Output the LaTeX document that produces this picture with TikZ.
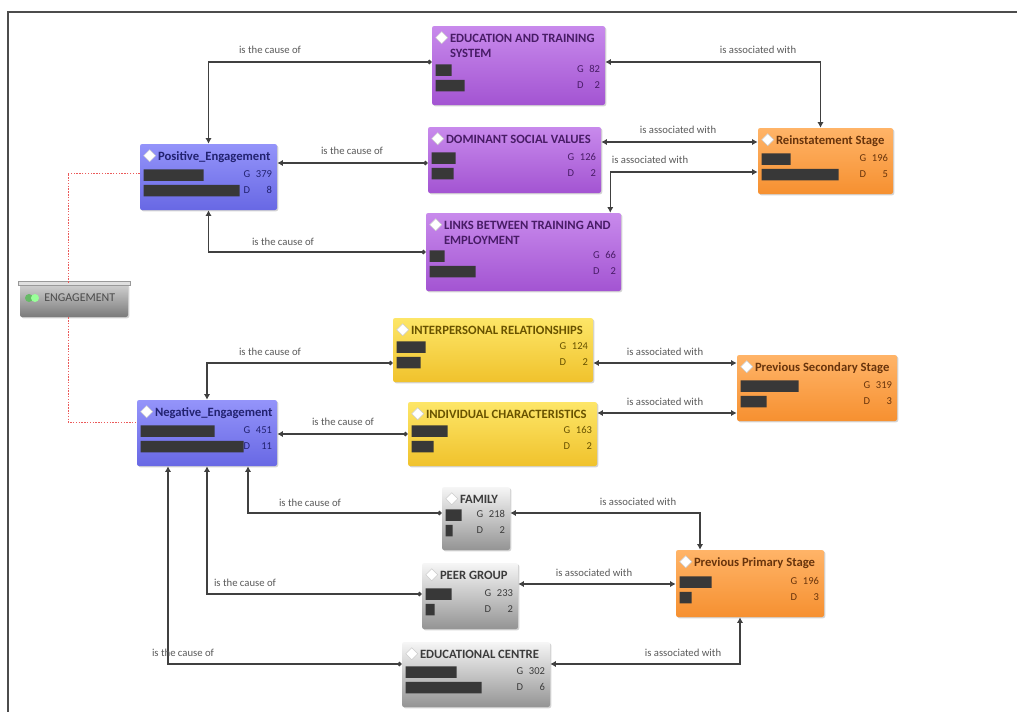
\documentclass[tikz,border=0pt]{standalone}
\usepackage{fontspec}
\setmainfont{Carlito}
\usetikzlibrary{arrows.meta,calc,fit,shadows}

\definecolor{purpT}{RGB}{200,138,236}
\definecolor{purpB}{RGB}{163,84,210}
\definecolor{purpX}{RGB}{72,28,102}
\definecolor{bluT}{RGB}{148,148,250}
\definecolor{bluB}{RGB}{104,104,228}
\definecolor{bluX}{RGB}{34,34,112}
\definecolor{orngT}{RGB}{255,180,104}
\definecolor{orngB}{RGB}{246,144,48}
\definecolor{orngX}{RGB}{104,52,12}
\definecolor{yellT}{RGB}{253,230,104}
\definecolor{yellB}{RGB}{240,194,44}
\definecolor{yellX}{RGB}{104,82,0}
\definecolor{gryT}{RGB}{246,246,246}
\definecolor{gryB}{RGB}{148,148,148}
\definecolor{gryX}{RGB}{60,60,60}
\definecolor{lineC}{RGB}{64,64,64}
\definecolor{linkR}{RGB}{235,90,90}

\tikzset{
	box/.style={rounded corners=1.5pt, inner sep=0pt, drop shadow={shadow xshift=.9pt, shadow yshift=-.9pt, opacity=.35}},
	purp/.style={top color=purpT, bottom color=purpB},
	blu/.style={top color=bluT, bottom color=bluB},
	orng/.style={top color=orngT, bottom color=orngB},
	yell/.style={top color=yellT, bottom color=yellB},
	gry/.style={top color=gryT, bottom color=gryB},
	purp txt/.style={text=purpX},
	blu txt/.style={text=bluX},
	orng txt/.style={text=orngX},
	yell txt/.style={text=yellX},
	gry txt/.style={text=gryX},
	ttl/.style={inner sep=0pt, align=left, font=\bfseries\fontsize{9}{10.7}\selectfont},
	num/.style={inner sep=0pt, font=\fontsize{7.5}{11}\selectfont},
	bar/.style={fill=black!78},
	lbl/.style={inner sep=0pt, text=black!65, font=\fontsize{7.6}{9}\selectfont},
	cause/.style={draw=lineC, line width=.8pt, {Circle[length=3.2pt]}-{Latex[length=4pt,width=4.5pt]}},
	assoc/.style={draw=lineC, line width=.8pt, {Latex[length=4pt,width=4.5pt]}-{Latex[length=4pt,width=4.5pt]}},
	member/.style={draw=linkR, line width=.7pt, dash pattern=on 1pt off 1pt},
}

% box, diamond, title, two bars and the G/D counts
\newcommand\concept[9][gry]{%
	\node[box,#1,fit={#3 #4}] (#2) {};
	\filldraw[fill=white, draw=black!20, line width=.3pt] ($(#2.north west)+(10,6)$) -- ++(6,6) -- ++(-6,6) -- ++(-6,-6) -- cycle;
	\node[ttl,#1 txt,anchor=north west] (#2-t) at ($(#2.north west)+(18,8)$) {#5};
	\fill[bar] ($(#2.south west)+(4,-41)$) rectangle ++(#6,11.5) ++(-#6,4) rectangle ++(#7,11.5);
	\node[num,#1 txt,anchor=east] (#2-n) at ($(#2.south east)+(-5,-28)$)
		{\begin{tabular}{@{}l@{\hspace{4pt}}r@{}}G&#8\\D&#9\end{tabular}};
}

\begin{document}
\begin{tikzpicture}[x=0.025cm, y=-0.025cm]
	\useasboundingbox (0,0) rectangle (1017,712);
	\draw[black!70, line width=1pt] (1017,12) -- (8,12) -- (8,712);

	\concept[purp]{edu}{(432,26)}{(605,105)}{EDUCATION AND TRAINING\\SYSTEM}{16}{29}{82}{2}
	\concept[purp]{dom}{(428,127)}{(601,193)}{DOMINANT SOCIAL VALUES}{24}{22}{126}{2}
	\concept[purp]{links}{(426,213)}{(621,291)}{LINKS BETWEEN TRAINING AND\\EMPLOYMENT}{15}{46}{66}{2}
	\concept[blu]{pos}{(140,144)}{(277,210)}{Positive\_Engagement}{60}{96}{379}{8}
	\concept[blu]{neg}{(137,400)}{(277,466)}{Negative\_Engagement}{74}{103}{451}{11}
	\concept[orng]{reinst}{(758,128)}{(893,194)}{Reinstatement Stage}{29}{77}{196}{5}
	\concept[orng]{prevsec}{(737,355)}{(897,421)}{Previous Secondary Stage}{58}{26}{319}{3}
	\concept[orng]{prevprim}{(676,550)}{(824,617)}{Previous Primary Stage}{32}{12}{196}{3}
	\concept[yell]{inter}{(393,318)}{(593,382)}{INTERPERSONAL RELATIONSHIPS}{29}{24}{124}{2}
	\concept[yell]{indiv}{(408,402)}{(597,466)}{INDIVIDUAL CHARACTERISTICS}{36}{22}{163}{2}
	\concept[gry]{family}{(442,487)}{(510,550)}{FAMILY}{16}{7}{218}{2}
	\concept[gry]{peer}{(422,563)}{(518,629)}{PEER GROUP}{26}{9}{233}{2}
	\concept[gry]{educ}{(402,642)}{(550,707)}{EDUCATIONAL CENTRE}{51}{76}{302}{6}

	% the family node on the left
	\node[box, top color=black!18, bottom color=black!52, fit={(20,284) (128,317)}] (eng) {};
	\fill[black!12, draw=black!40, line width=.3pt] (18,281) rectangle (130,285);
	\fill[green!55!black!60] (29,298) circle (4);
	\fill[green!40!white] (35,298) circle (4);
	\node[anchor=west, inner sep=0pt, text=black!70, font=\fontsize{8.5}{10}\selectfont] (eng-t) at (44,298) {ENGAGEMENT};

	\draw[member] ($(pos.west)+(0,-4)$) -| ($(eng.north)+(-6,0)$);
	\draw[member] ($(eng.south)+(-6,0)$) |- ($(neg.west)+(0,-11)$);

	% upper half
	\draw[cause] ($(edu.west)+(0,-3.5)$) -| (pos.north);
	\draw[assoc] ($(edu.east)+(0,-3.5)$) -| ($(reinst.north)+(-5,0)$);
	\draw[cause] ($(dom.west)+(0,3)$) coordinate (c3) -- (c3 -| pos.east);
	\draw[assoc] ($(dom.east)+(0,-18)$) coordinate (c4) -- (c4 -| reinst.west);
	\draw[assoc] ($(reinst.west)+(0,11)$) -| ($(links.north east)+(-11,0)$);
	\draw[cause] (links.west) -| (pos.south);

	% lower half
	\draw[cause] ($(inter.west)+(0,13)$) -| (neg.north);
	\draw[assoc] ($(inter.east)+(0,13)$) coordinate (c9) -- (c9 -| prevsec.west);
	\draw[assoc] ($(indiv.east)+(0,-21)$) coordinate (c10) -- (c10 -| prevsec.west);
	\draw[cause] (indiv.west) -- (indiv.west -| neg.east);
	\draw[cause] ($(family.west)+(0,-5.5)$) -| ($(neg.south)+(41,0)$);
	\draw[cause] ($(peer.west)+(0,-2)$) -| (neg.south);
	\draw[cause] ($(educ.west)+(0,-10.5)$) -| ($(neg.south)+(-39,0)$);
	\draw[assoc] ($(family.east)+(0,-5.5)$) -| ($(prevprim.north)+(-50,0)$);
	\draw[assoc] ($(peer.east)+(0,-12)$) coordinate (c16) -- (c16 -| prevprim.west);
	\draw[assoc] ($(educ.east)+(0,-10.5)$) -| ($(prevprim.south)+(-10,0)$);

	\node[lbl] (l1) at (270,50) {is the cause of};
	\node[lbl] (l2) at (758,50) {is associated with};
	\node[lbl] (l3) at (352,151) {is the cause of};
	\node[lbl] (l4) at (678,130) {is associated with};
	\node[lbl] (l5) at (650,160) {is associated with};
	\node[lbl] (l6) at (283,242) {is the cause of};
	\node[lbl] (l8) at (270,352) {is the cause of};
	\node[lbl] (l9) at (665,352) {is associated with};
	\node[lbl] (l10) at (665,402) {is associated with};
	\node[lbl] (l11) at (343,422) {is the cause of};
	\node[lbl] (l12) at (310,503) {is the cause of};
	\node[lbl] (l13) at (245,583) {is the cause of};
	\node[lbl] (l14) at (183,653) {is the cause of};
	\node[lbl] (l15) at (638,502) {is associated with};
	\node[lbl] (l16) at (594,573) {is associated with};
	\node[lbl] (l17) at (683,653) {is associated with};
\end{tikzpicture}
\end{document}
